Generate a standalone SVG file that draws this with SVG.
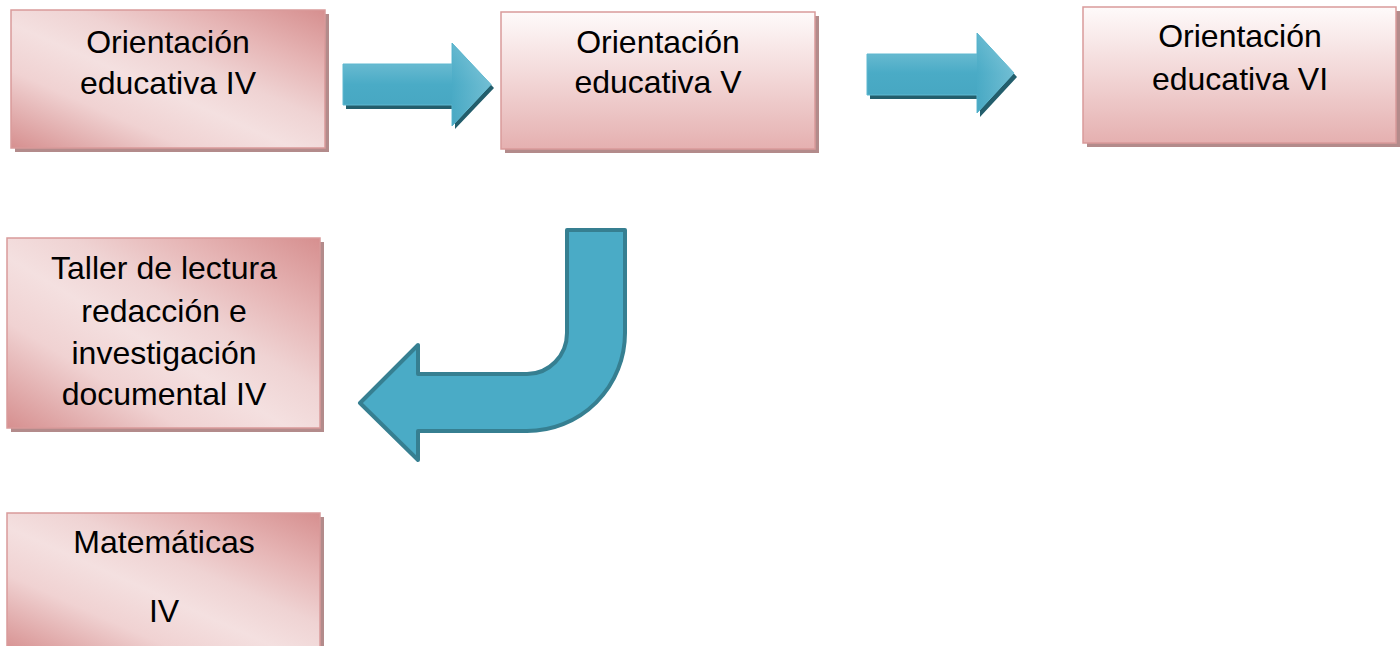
<svg xmlns="http://www.w3.org/2000/svg" width="1400" height="646" viewBox="0 0 1400 646">
<defs>
<linearGradient id="gDiag" x1="0" y1="1" x2="1" y2="0">
<stop offset="0" stop-color="#d68f8f"/>
<stop offset="0.28" stop-color="#f0d2d2"/>
<stop offset="0.45" stop-color="#f4e0e0"/>
<stop offset="0.6" stop-color="#efd3d3"/>
<stop offset="0.78" stop-color="#e6b5b5"/>
<stop offset="1" stop-color="#d68f8f"/>
</linearGradient>
<linearGradient id="gVert" x1="0" y1="0" x2="0" y2="1">
<stop offset="0" stop-color="#fefafa"/>
<stop offset="0.5" stop-color="#f2d6d6"/>
<stop offset="1" stop-color="#e5b0b0"/>
</linearGradient>
<linearGradient id="gArrow" x1="0" y1="0" x2="0" y2="1">
<stop offset="0" stop-color="#86c9db"/>
<stop offset="0.5" stop-color="#4aabc6"/>
<stop offset="1" stop-color="#45a4bf"/>
</linearGradient>
<linearGradient id="gHead" x1="0" y1="0" x2="1" y2="0">
<stop offset="0" stop-color="#4aabc6"/>
<stop offset="1" stop-color="#8ccbdc"/>
</linearGradient>
</defs>
<style>
.shadow{fill:#b38b8b}
.box{stroke:#d99a9a;stroke-width:1.5}
.diag{fill:url(#gDiag)}
.vert{fill:url(#gVert)}
.t{font-family:"Liberation Sans",Arial,sans-serif;font-size:32px;fill:#000;text-anchor:middle}
.ash{fill:#235e6c}
.arr{fill:url(#gArrow);stroke:#5fb8d0;stroke-width:1}
.curve{fill:#4aabc6;stroke:#367f91;stroke-width:4;stroke-linejoin:round}
</style>
<rect width="1400" height="646" fill="#ffffff"/>

<g id="node-oe4">
<rect class="shadow" x="15" y="14" width="314" height="138"/>
<rect class="box diag" x="11" y="10" width="314" height="138"/>
<text class="t" x="168" y="53">Orientación</text>
<text class="t" x="168" y="94">educativa IV</text>
</g>

<g id="node-oe5">
<rect class="shadow" x="505" y="16" width="314" height="137"/>
<rect class="box vert" x="501" y="12" width="314" height="137"/>
<text class="t" x="658" y="53">Orientación</text>
<text class="t" x="658" y="93">educativa V</text>
</g>

<g id="node-oe6">
<rect class="shadow" x="1087" y="11" width="313" height="136"/>
<rect class="box vert" x="1083" y="7" width="313" height="136"/>
<text class="t" x="1240" y="47">Orientación</text>
<text class="t" x="1240" y="90">educativa VI</text>
</g>

<g id="node-taller">
<rect class="shadow" x="11" y="242" width="313" height="190"/>
<rect class="box diag" x="7" y="238" width="313" height="190"/>
<text class="t" x="164" y="279">Taller de lectura</text>
<text class="t" x="164" y="322">redacción e</text>
<text class="t" x="164" y="364">investigación</text>
<text class="t" x="164" y="405">documental IV</text>
</g>

<g id="node-mate">
<rect class="shadow" x="11" y="517" width="313" height="140"/>
<rect class="box diag" x="7" y="513" width="313" height="140"/>
<text class="t" x="164" y="553">Matemáticas</text>
<text class="t" x="164" y="622">IV</text>
</g>

<g id="connectors">
<g id="arrow1">
<path class="ash" d="M346,68 H455 V47 L494,88 L455,129 V109 H346 Z"/>
<path class="arr" d="M343,64 H452 V43 L491,84.5 L452,126 V105 H343 Z"/>
<path d="M452,43 L491,84.5 L452,126 Z" fill="url(#gHead)" opacity="0.6"/>
</g>
<g id="arrow2">
<path class="ash" d="M870,58 H980 V37 L1017,77 L980,117 V99 H870 Z"/>
<path class="arr" d="M867,54 H977 V33 L1014,73 L977,113 V95 H867 Z"/>
<path d="M977,33 L1014,73 L977,113 Z" fill="url(#gHead)" opacity="0.6"/>
</g>
<path id="arrow3" class="curve" d="M567,230 H625 V333 A98,98 0 0 1 527,431 H418 V460 L360,403 L418,345 V374 H527 A40,41 0 0 0 567,333 Z"/>
</g>
</svg>
